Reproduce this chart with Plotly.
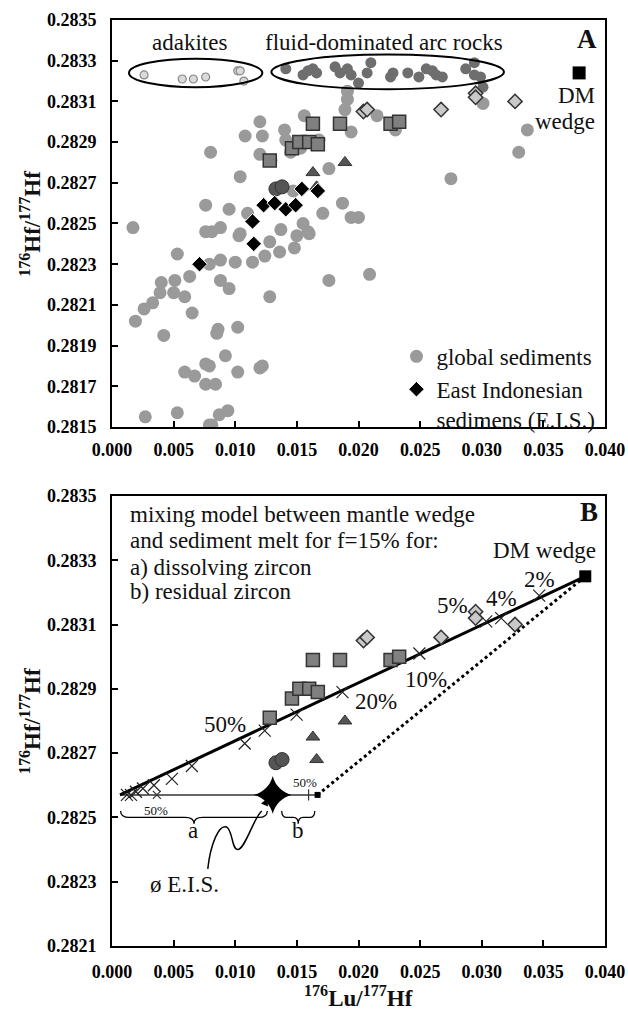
import plotly.graph_objects as go

# ---------------- data ----------------
gs_x = [0.0017, 0.0076, 0.0081, 0.0088, 0.0103, 0.0053, 0.0088, 0.0079, 0.0100, 0.0114,
        0.0124, 0.0128, 0.0136, 0.0137, 0.0148, 0.0150, 0.0160, 0.0040, 0.0051, 0.0050,
        0.0039, 0.0063, 0.0059, 0.0088, 0.0095, 0.0033, 0.0026, 0.0019, 0.0065, 0.0128,
        0.0042, 0.0086, 0.0085, 0.0102, 0.0092, 0.0076, 0.0079, 0.0059, 0.0067, 0.0102,
        0.0120, 0.0122, 0.0076, 0.0084, 0.0027, 0.0053, 0.0087, 0.0094, 0.0079, 0.0081,
        0.0120, 0.0156, 0.0108, 0.0122, 0.0140, 0.0080, 0.0120, 0.0104, 0.0076, 0.0095,
        0.0110, 0.0104, 0.0191, 0.0191, 0.0189, 0.0215, 0.0194, 0.0230, 0.0145, 0.0176,
        0.0337, 0.0330, 0.0275, 0.0301, 0.0187, 0.0194, 0.0200, 0.0171, 0.0155, 0.0159,
        0.0176, 0.0209, 0.0147, 0.0141, 0.0153, 0.0129, 0.0168]
gs_y = [0.28248, 0.28246, 0.28246, 0.28248, 0.28244, 0.28235, 0.28232, 0.28230, 0.28231, 0.28231,
        0.28234, 0.28241, 0.28236, 0.28247, 0.28238, 0.28244, 0.28245, 0.28221, 0.28222, 0.28216,
        0.28216, 0.28224, 0.28214, 0.28222, 0.28218, 0.28211, 0.28208, 0.28202, 0.28206, 0.28214,
        0.28195, 0.28198, 0.28196, 0.28199, 0.28185, 0.28181, 0.28180, 0.28177, 0.28175, 0.28177,
        0.28179, 0.28180, 0.28171, 0.28171, 0.28155, 0.28157, 0.28156, 0.28158, 0.28151, 0.28151,
        0.28300, 0.28303, 0.28293, 0.28293, 0.28296, 0.28285, 0.28284, 0.28273, 0.28259, 0.28257,
        0.28255, 0.28245, 0.28315, 0.28311, 0.28306, 0.28303, 0.28295, 0.28296, 0.28285, 0.28277,
        0.28296, 0.28285, 0.28272, 0.28309, 0.28260, 0.28253, 0.28253, 0.28255, 0.28250, 0.28246,
        0.28222, 0.28225, 0.28266, 0.28291, 0.28287, 0.28281, 0.28291]

fluid_x = [0.0141, 0.0155, 0.0159, 0.0163, 0.0166, 0.0181, 0.0185, 0.0191, 0.0194, 0.0200,
           0.0210, 0.0207, 0.0228, 0.0226, 0.0240, 0.0249, 0.0255, 0.0260, 0.0263, 0.0268,
           0.0287, 0.0294, 0.0294, 0.0299, 0.0301]
fluid_y = [0.28326, 0.28323, 0.28325, 0.28326, 0.28324, 0.28327, 0.28324, 0.28326, 0.28323, 0.28319,
           0.28329, 0.28324, 0.28324, 0.28322, 0.28324, 0.28322, 0.28326, 0.28325, 0.28323, 0.28322,
           0.28326, 0.28329, 0.28323, 0.28322, 0.28317]

adak_x = [0.0026, 0.0057, 0.0066, 0.0076, 0.0102, 0.0104, 0.0107]
adak_y = [0.28323, 0.28321, 0.28321, 0.28322, 0.28325, 0.28325, 0.28320]

sq_x = [0.0128, 0.0146, 0.0152, 0.0160, 0.0167, 0.0163, 0.0185, 0.0226, 0.0233]
sq_y = [0.28281, 0.28287, 0.28290, 0.28290, 0.28289, 0.28299, 0.28299, 0.28299, 0.28300]

dia_x = [0.0204, 0.0207, 0.0267, 0.0295, 0.0295, 0.0327]
dia_y = [0.28305, 0.28306, 0.28306, 0.28314, 0.28312, 0.28310]

tri_x = [0.0189, 0.0163, 0.0166]
tri_y = [0.28280, 0.28275, 0.28268]

dc_x = [0.0133, 0.0138]
dc_y = [0.28267, 0.28268]

eis_x = [0.0114, 0.0123, 0.0132, 0.0141, 0.0149, 0.0154, 0.0167, 0.0071, 0.0115]
eis_y = [0.28251, 0.28259, 0.28260, 0.28257, 0.28259, 0.28267, 0.28266, 0.28230, 0.28240]

dm_a = (0.0379, 0.28324)
dm_b = (0.0384, 0.28325)

# mixing model (panel B)
mix_a_x = [0.0384, 0.00065]
mix_a_y = [0.28325, 0.28257]
mix_ticks_x = [0.03466, 0.03158, 0.03036, 0.02494, 0.01870, 0.01498, 0.01239, 0.01077,
               0.00648, 0.00486, 0.00340, 0.00251, 0.00194, 0.00154, 0.00121]
mix_ticks_y = [0.28319, 0.28312, 0.28311, 0.28301, 0.28289, 0.28282, 0.28277, 0.28273,
               0.28266, 0.28262, 0.28260, 0.28259, 0.28258, 0.28257, 0.28257]
melt_x = [0.00065, 0.01668]          # sediment melt range (a .. b)
melt_y = [0.28257, 0.28257]
eis_mean = (0.01304, 0.28257)
mix_b_x = [0.01668, 0.0384]
mix_b_y = [0.28257, 0.28325]

pct_labels = ["50%", "20%", "10%", "5%", "4%", "2%"]
pct_x = [0.00915, 0.02138, 0.02551, 0.02761, 0.03158, 0.03466]
pct_y = [0.28279, 0.28286, 0.28293, 0.28316, 0.28318, 0.28324]

x_ticks = [0.000, 0.005, 0.010, 0.015, 0.020, 0.025, 0.030, 0.035, 0.040]
ya_ticks = [0.2815, 0.2817, 0.2819, 0.2821, 0.2823, 0.2825, 0.2827, 0.2829, 0.2831, 0.2833, 0.2835]
yb_ticks = [0.2821, 0.2823, 0.2825, 0.2827, 0.2829, 0.2831, 0.2833, 0.2835]

# ---------------- figure ----------------
SERIF = "Liberation Serif"
fig = go.Figure()

def add(x, y, xa, ya, **kw):
    kw.setdefault("showlegend", False)
    fig.add_trace(go.Scatter(x=x, y=y, xaxis=xa, yaxis=ya, hoverinfo="skip", **kw))

# Panel A
add(gs_x, gs_y, "x", "y", mode="markers", name="global sediments", showlegend=True,
    marker=dict(symbol="circle", size=13, color="#9a9a9a"))
add(fluid_x, fluid_y, "x", "y", mode="markers",
    marker=dict(symbol="circle", size=11, color="#6e6e6e"))
add(adak_x, adak_y, "x", "y", mode="markers",
    marker=dict(symbol="circle", size=8, color="#dadada", line=dict(color="#888", width=1.2)))
add(sq_x, sq_y, "x", "y", mode="markers",
    marker=dict(symbol="square", size=13, color="#808080", line=dict(color="#333", width=1.5)))
add(dia_x, dia_y, "x", "y", mode="markers",
    marker=dict(symbol="diamond", size=11, color="#c9c9c9", line=dict(color="#333", width=1.5)))
add(tri_x, tri_y, "x", "y", mode="markers",
    marker=dict(symbol="triangle-up", size=12, color="#555", line=dict(color="#333", width=1)))
add(dc_x, dc_y, "x", "y", mode="markers",
    marker=dict(symbol="circle", size=14, color="#555", line=dict(color="#333", width=1)))
add(eis_x, eis_y, "x", "y", mode="markers", name="East Indonesian<br>sedimens (E.I.S.)", showlegend=True,
    marker=dict(symbol="diamond", size=12, color="black", line=dict(color="white", width=1)))
add([dm_a[0]], [dm_a[1]], "x", "y", mode="markers",
    marker=dict(symbol="square", size=13, color="black"))

# Panel B
add(mix_b_x, mix_b_y, "x2", "y2", mode="lines", line=dict(color="black", width=3, dash="dot"))
add(melt_x, melt_y, "x2", "y2", mode="lines", line=dict(color="#333", width=1.5))
add([0.00364], [0.28257], "x2", "y2", mode="markers",
    marker=dict(symbol="x-thin", size=8, line=dict(color="#333", width=1.2)))
add([0.01595], [0.28257], "x2", "y2", mode="markers",
    marker=dict(symbol="line-ns", size=8, line=dict(color="#333", width=1.2)))
add([melt_x[1]], [melt_y[1]], "x2", "y2", mode="markers",
    marker=dict(symbol="square", size=6, color="black"))
add(mix_a_x, mix_a_y, "x2", "y2", mode="lines", line=dict(color="black", width=3))
add(mix_ticks_x, mix_ticks_y, "x2", "y2", mode="markers",
    marker=dict(symbol="x-thin", size=12, line=dict(color="#222", width=1.2)))
add(sq_x, sq_y, "x2", "y2", mode="markers",
    marker=dict(symbol="square", size=13, color="#808080", line=dict(color="#333", width=1.5)))
add(dia_x, dia_y, "x2", "y2", mode="markers",
    marker=dict(symbol="diamond", size=11, color="#c9c9c9", line=dict(color="#333", width=1.5)))
add(tri_x, tri_y, "x2", "y2", mode="markers",
    marker=dict(symbol="triangle-up", size=12, color="#555", line=dict(color="#333", width=1)))
add(dc_x, dc_y, "x2", "y2", mode="markers",
    marker=dict(symbol="circle", size=14, color="#555", line=dict(color="#333", width=1)))
add([eis_mean[0]], [eis_mean[1]], "x2", "y2", mode="markers",
    marker=dict(symbol="star-diamond", size=27, color="black"))
add([dm_b[0]], [dm_b[1]], "x2", "y2", mode="markers",
    marker=dict(symbol="square", size=12, color="black"))

# ---------------- layout ----------------
tickfont = dict(family=SERIF, size=18, color="black", weight="bold")
axis_common = dict(showline=True, linecolor="black", linewidth=2, mirror=True,
                   ticks="inside", ticklen=6, tickwidth=2, tickcolor="black",
                   showgrid=False, zeroline=False, tickfont=tickfont, automargin=False)

fig.update_layout(
    width=628, height=1016,
    margin=dict(l=112, r=23, t=20, b=70, autoexpand=False),
    plot_bgcolor="white", paper_bgcolor="white",
    xaxis=dict(domain=[0, 1], range=[0, 0.04], tickvals=x_ticks, tickformat=".3f",
               anchor="y", ticklabelstandoff=5, **axis_common),
    yaxis=dict(domain=[0.5605, 1], range=[0.2815, 0.2835], tickvals=ya_ticks, tickformat=".4f",
               anchor="x", ticklabelstandoff=10, **axis_common),
    xaxis2=dict(domain=[0, 1], range=[0, 0.04], tickvals=x_ticks, tickformat=".3f",
                anchor="y2", ticklabelstandoff=8, **axis_common),
    yaxis2=dict(domain=[0, 0.486], range=[0.2821, 0.2835], tickvals=yb_ticks, tickformat=".4f",
                anchor="x2", ticklabelstandoff=10, **axis_common),
    legend=dict(x=0.577, y=0.660, xanchor="left", yanchor="top", bgcolor="rgba(0,0,0,0)",
                font=dict(family=SERIF, size=23, color="#111"), valign="top",
                tracegroupgap=0, itemwidth=30),
)

TXT = dict(family=SERIF, size=23, color="#111")
ann = []
def note(text, x, y, xref, yref, size=23, xanchor="center", yanchor="middle", bold=False, **kw):
    f = dict(TXT, size=size)
    if bold:
        f["weight"] = "bold"
    ann.append(dict(text=text, x=x, y=y, xref=xref, yref=yref, showarrow=False,
                    xanchor=xanchor, yanchor=yanchor, font=f, **kw))

# Panel A labels
note("adakites", 0.00626, 0.28339, "x", "y")
note("fluid-dominated arc rocks", 0.0221, 0.28339, "x", "y")
note("A", 0.964, 0.953, "x domain", "y domain", size=27, bold=True)
note("DM", 0.03935, 0.28313, "x", "y", xanchor="right")
note("wedge", 0.03935, 0.28300, "x", "y", xanchor="right")

# Panel B labels
for i, line in enumerate(["mixing model between mantle wedge",
                          "and sediment melt for f=15% for:",
                          "a) dissolving zircon",
                          "b) residual zircon"]):
    note(line, 0.0324, [0.958, 0.902, 0.842, 0.787][i], "x2 domain", "y2 domain", xanchor="left")
note("B", 0.968, 0.964, "x2 domain", "y2 domain", size=27, bold=True)
note("DM wedge", 0.03506, 0.28333, "x2", "y2")
for t, px_, py_ in zip(pct_labels, pct_x, pct_y):
    note(t, px_, py_, "x2", "y2")
note("50%", 0.00356, 0.28252, "x2", "y2", size=13)
note("50%", 0.01563, 0.28261, "x2", "y2", size=13)
note("a", 0.00656, 0.28246, "x2", "y2")
note("b", 0.01506, 0.28246, "x2", "y2")
note("ø E.I.S.", 0.00591, 0.28229, "x2", "y2")

# axis titles
ytitle = "<b><sup>176</sup>Hf/<sup>177</sup>Hf</b>"
note(ytitle, -0.164, 0.78, "paper", "paper", textangle=-90)
note(ytitle, -0.164, 0.243, "paper", "paper", textangle=-90)
note("<b><sup>176</sup>Lu/<sup>177</sup>Hf</b>", 0.5, -0.055, "paper", "paper")

# arrow head toward the E.I.S. mean star
ann.append(dict(x=0.01262, y=0.28256, ax=0.01215, ay=0.28252, xref="x2", yref="y2",
                axref="x2", ayref="y2", showarrow=True, arrowhead=2, arrowsize=1,
                arrowwidth=1.5, arrowcolor="black", text=" "))
fig.update_layout(annotations=ann)

# ellipses (panel A) and braces / wavy arrow (panel B)
shapes = [
    dict(type="circle", xref="x", yref="y", x0=0.00138, x1=0.0122, y0=0.28317, y1=0.28331,
         line=dict(color="black", width=2)),
    dict(type="circle", xref="x", yref="y", x0=0.01293, x1=0.0318, y0=0.28316, y1=0.28333,
         line=dict(color="black", width=2)),
]

def brace(x0, x1, ytop, ymid, ytip, d=0.0007):
    xm = (x0 + x1) / 2
    return (f"M {x0},{ytop} Q {x0},{ymid} {x0+d},{ymid} L {xm-d},{ymid} "
            f"Q {xm},{ymid} {xm},{ytip} Q {xm},{ymid} {xm+d},{ymid} "
            f"L {x1-d},{ymid} Q {x1},{ymid} {x1},{ytop}")

shapes.append(dict(type="path", xref="x2", yref="y2", path=brace(0.0007, 0.0126, 0.28252, 0.2825, 0.28248),
                   line=dict(color="black", width=1.3)))
shapes.append(dict(type="path", xref="x2", yref="y2", path=brace(0.01377, 0.01645, 0.28252, 0.2825, 0.28248, d=0.0004),
                   line=dict(color="black", width=1.3)))
shapes.append(dict(type="path", xref="x2", yref="y2",
                   path=("M 0.00777,0.28234 C 0.0080,0.28242 0.0087,0.28248 0.00931,0.28247 "
                         "C 0.0098,0.28246 0.0097,0.2824 0.0102,0.2824 "
                         "C 0.0108,0.2824 0.0115,0.2825 0.01215,0.28252"),
                   line=dict(color="black", width=1.5)))
fig.update_layout(shapes=shapes)

# remove the default page margin so the 628x1016 figure fills the window exactly
fig.write_html("out.html", config={"displayModeBar": False},
               post_script="document.body.style.margin='0';document.body.style.overflow='hidden';")
